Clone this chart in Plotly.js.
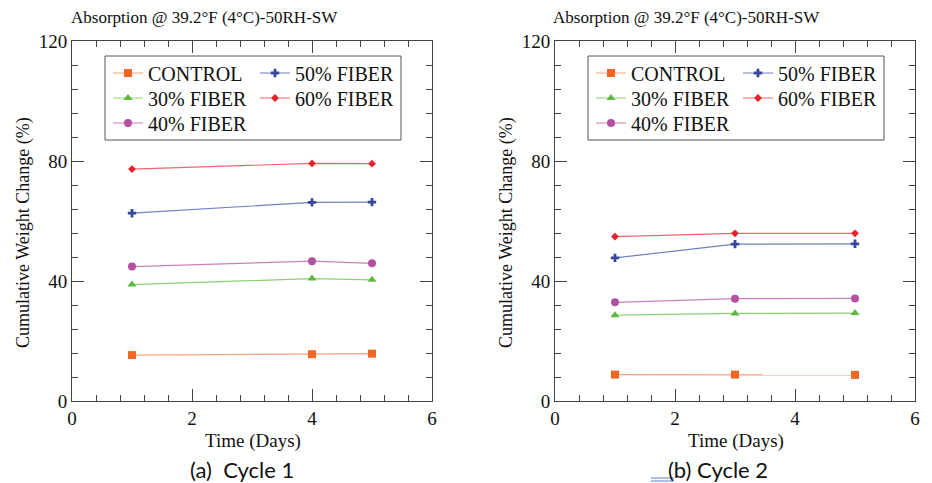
<!DOCTYPE html>
<html>
<head>
<meta charset="utf-8">
<script src="https://cdn.plot.ly/plotly-3.0.1.min.js"></script>
<style>html,body{margin:0;padding:0;background:#fff}#chart{width:932px;height:483px}</style>
</head>
<body>
<div id="chart"></div>
<script>
// ---- data ----
const seriesNames = ["CONTROL", "30% FIBER", "40% FIBER", "50% FIBER", "60% FIBER"];
const cycle1Days = [1, 4, 5];
const cycle2Days = [1, 3, 5];
const c1Control = [15.3, 15.6, 15.8];
const c1Fiber30 = [38.8, 40.8, 40.4];
const c1Fiber40 = [44.8, 46.6, 45.9];
const c1Fiber50 = [62.6, 66.2, 66.3];
const c1Fiber60 = [77.3, 79.2, 79.1];
const c2Control = [8.8, 8.8, 8.7];
const c2Fiber30 = [28.6, 29.2, 29.3];
const c2Fiber40 = [32.9, 34.1, 34.2];
const c2Fiber50 = [47.7, 52.3, 52.4];
const c2Fiber60 = [54.8, 55.9, 55.9];
const chartTitle = "Absorption @ 39.2°F (4°C)-50RH-SW";
const xTitle = "Time (Days)";
const yTitle = "Cumulative Weight Change (%)";
const captions = ["(a)  Cycle 1", "(b) Cycle 2"];

// ---- styles ----
const lineColors = ["#f9a27a", "#8fd070", "#cf7dbd", "#6f80c4", "#f2656b"];
const markerColors = ["#f26522", "#5db840", "#b4519e", "#34489c", "#e8202a"];
const symbols = ["square", "triangle-up", "circle", "cross", "diamond"];
const markerSizes = [8, 8, 8, 7, 6];
const serif = "'Liberation Serif', 'Times New Roman', Times, serif";
// legend slot (column, row) for each series
const legCol = [0, 0, 0, 1, 1];
const legRow = [0, 1, 2, 0, 1];

const c1 = [c1Control, c1Fiber30, c1Fiber40, c1Fiber50, c1Fiber60];
const c2 = [c2Control, c2Fiber30, c2Fiber40, c2Fiber50, c2Fiber60];

const W = 932, H = 483;
const px = v => v / W;
const py = v => (H - v) / H;

const traces = [];
const layout = {
  width: W, height: H, margin: {l: 0, r: 0, t: 0, b: 0},
  paper_bgcolor: "#fff", plot_bgcolor: "#fff", showlegend: true
};
let legIdx = 0;
function addTraces(vals, days, xa, ya, boxLeft) {
  vals.forEach((v, i) => {
    legIdx += 1;
    const key = legIdx === 1 ? "legend" : "legend" + legIdx;
    traces.push({
      x: days, y: v, type: "scatter", mode: "lines+markers",
      name: seriesNames[i], xaxis: xa, yaxis: ya, legend: key,
      line: {color: lineColors[i], width: 1.2},
      marker: {color: markerColors[i], symbol: symbols[i], size: markerSizes[i], line: {width: 0}}
    });
    layout[key] = {
      x: px(boxLeft + 3 + legCol[i] * 147), y: py(73 + legRow[i] * 25),
      xanchor: "left", yanchor: "middle", orientation: "v",
      bgcolor: "rgba(0,0,0,0)", borderwidth: 0,
      font: {family: serif, size: 20, color: "#111"}
    };
  });
}
addTraces(c1, cycle1Days, "x", "y", 105);
addTraces(c2, cycle2Days, "x2", "y2", 588);

function xax(d0, d1, anchor) {
  return {
    domain: [px(d0), px(d1)], anchor: anchor, range: [0, 6], dtick: 2, tick0: 0,
    showgrid: false, zeroline: false, showline: true, linecolor: "#444", linewidth: 1,
    mirror: "allticks", ticks: "inside", ticklen: 12, tickcolor: "#444", tickwidth: 1,
    minor: {dtick: 0.4, tick0: 0, ticks: "inside", ticklen: 6, tickcolor: "#444", tickwidth: 1, showgrid: false},
    tickfont: {family: serif, size: 19, color: "#111"}, fixedrange: true
  };
}
function yax(anchor) {
  return {
    domain: [py(401), py(41)], anchor: anchor, range: [0, 120], dtick: 40, tick0: 0,
    showgrid: false, zeroline: false, showline: true, linecolor: "#444", linewidth: 1,
    mirror: "allticks", ticks: "inside", ticklen: 12, tickcolor: "#444", tickwidth: 1,
    minor: {dtick: 8, tick0: 0, ticks: "inside", ticklen: 6, tickcolor: "#444", tickwidth: 1, showgrid: false},
    tickfont: {family: serif, size: 19, color: "#111"}, fixedrange: true
  };
}
layout.xaxis = xax(72, 432, "y");
layout.yaxis = yax("x");
layout.xaxis2 = xax(555, 915, "y2");
layout.yaxis2 = yax("x2");

const annotations = [];
function addTexts(cx, left, ytx) {
  annotations.push({text: chartTitle, x: px(left), y: py(17), xref: "paper", yref: "paper", xanchor: "left", yanchor: "middle", showarrow: false, font: {family: serif, size: 17, color: "#111"}});
  annotations.push({text: xTitle, x: px(cx), y: py(441), xref: "paper", yref: "paper", xanchor: "center", yanchor: "middle", showarrow: false, font: {family: serif, size: 19, color: "#111"}});
  annotations.push({text: yTitle, x: px(ytx), y: py(233), xref: "paper", yref: "paper", xanchor: "center", yanchor: "middle", textangle: -90, showarrow: false, font: {family: serif, size: 18, color: "#111"}});
}
addTexts(253, 69, 23);
addTexts(736, 551, 506);
annotations.push({text: captions[0], x: px(242), y: py(469), xref: "paper", yref: "paper", xanchor: "center", yanchor: "middle", showarrow: false, font: {family: "Lato, 'Open Sans', sans-serif", size: 22, color: "#111"}});
annotations.push({text: captions[1], x: px(718), y: py(469), xref: "paper", yref: "paper", xanchor: "center", yanchor: "middle", showarrow: false, font: {family: "Lato, 'Open Sans', sans-serif", size: 22, color: "#111"}});
layout.annotations = annotations;

layout.shapes = [
  {type: "rect", xref: "paper", yref: "paper", x0: px(105), x1: px(401), y0: py(140), y1: py(56), fillcolor: "#fff", line: {color: "#555", width: 1}, layer: "above"},
  {type: "rect", xref: "paper", yref: "paper", x0: px(588), x1: px(884), y0: py(140), y1: py(56), fillcolor: "#fff", line: {color: "#555", width: 1}, layer: "above"},
  {type: "line", xref: "paper", yref: "paper", x0: px(651), x1: px(674), y0: py(478), y1: py(478), line: {color: "#5b7fd6", width: 1}},
  {type: "line", xref: "paper", yref: "paper", x0: px(651), x1: px(674), y0: py(481), y1: py(481), line: {color: "#5b7fd6", width: 1}}
];

Plotly.newPlot("chart", traces, layout, {displayModeBar: false, staticPlot: true});
</script>
</body>
</html>
